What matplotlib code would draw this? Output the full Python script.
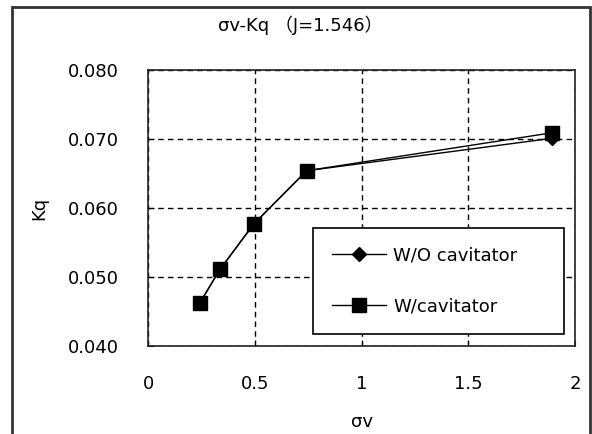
import matplotlib
matplotlib.use("Agg")
import matplotlib.pyplot as plt
from matplotlib.patches import Rectangle

plt.rcParams['font.family'] = ['DejaVu Sans', 'Noto Sans CJK JP']

sigma_v = [0.244, 0.337, 0.496, 0.743, 1.892]
kq_wo = [0.0463, 0.0511, 0.0577, 0.0654, 0.0701]
kq_w = [0.0463, 0.0511, 0.0577, 0.0654, 0.0709]
x_ticks = [0, 0.5, 1, 1.5, 2]
x_tick_labels = ['0', '0.5', '1', '1.5', '2']
y_ticks = [0.040, 0.050, 0.060, 0.070, 0.080]
y_tick_labels = ['0.040', '0.050', '0.060', '0.070', '0.080']
title = 'σv-Kq （J=1.546）'
labels = ['W/O cavitator', 'W/cavitator']

fig = plt.figure(figsize=(5.92, 4.34), dpi=100)
ax = fig.add_axes([148/592, 88/434, 427/592, 276/434])

ax.plot(sigma_v, kq_wo, color='black', lw=1, marker='D', markersize=7, label=labels[0])
ax.plot(sigma_v, kq_w, color='black', lw=1, marker='s', markersize=10, label=labels[1])

ax.set_xlim(0, 2)
ax.set_ylim(0.040, 0.080)
ax.set_xticks(x_ticks)
ax.set_xticklabels(x_tick_labels)
ax.set_yticks(y_ticks)
ax.set_yticklabels(y_tick_labels)
ax.tick_params(direction='in', length=4, labelsize=13, colors='black')
ax.tick_params(axis='y', pad=21)
ax.tick_params(axis='x', pad=21)
ax.grid(True, color='black', linestyle=(0, (4, 3)), linewidth=1)
for s in ax.spines.values():
    s.set_linewidth(1.2)
    s.set_color('#222222')
    s.set_zorder(3)

ax.set_xlabel('σv', fontsize=13, labelpad=14)
ax.set_ylabel('Kq', fontsize=13, labelpad=14)
fig.text(0.507, 1 - 25/434, title, fontsize=13, ha='center', va='center')

leg = ax.legend(loc='lower left', bbox_to_anchor=(0.386, 0.0435, 0.588, 0.388),
                mode='expand', borderaxespad=0, fontsize=13, frameon=True,
                fancybox=False, edgecolor='black', framealpha=1,
                labelspacing=1.8, borderpad=1.05, handlelength=3.0,
                handletextpad=0.4, numpoints=1)
leg.get_frame().set_linewidth(1.2)

fig.patches.append(Rectangle((12/592, -0.1), 578/592, 1.1 - 7/434,
                             transform=fig.transFigure, fill=False,
                             edgecolor='#333333', linewidth=2))

fig.savefig('out.png', dpi=100)
